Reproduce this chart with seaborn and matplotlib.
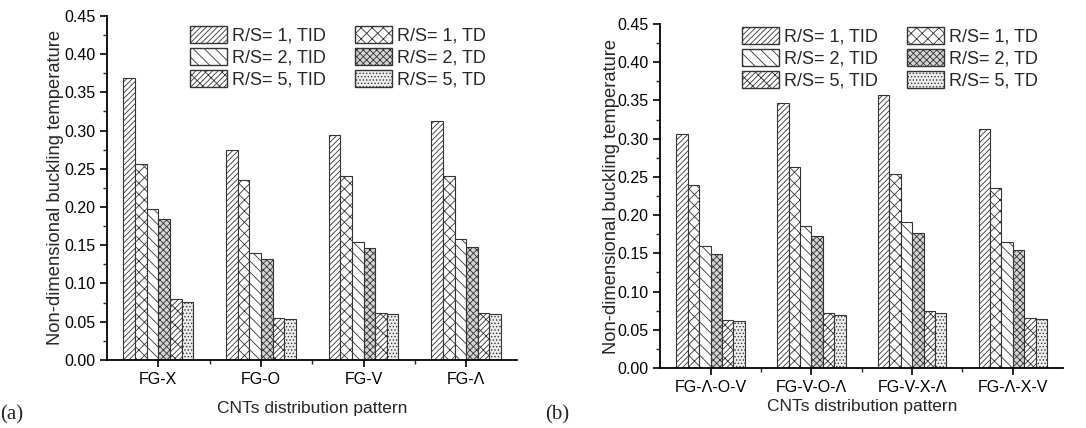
import matplotlib
matplotlib.use('Agg')
import matplotlib.pyplot as plt
from matplotlib.patches import Patch
from matplotlib.ticker import MultipleLocator, FixedLocator, FormatStrFormatter
import pandas as pd
import seaborn as sns

series = ['R/S= 1, TID', 'R/S= 1, TD', 'R/S= 2, TID', 'R/S= 2, TD', 'R/S= 5, TID', 'R/S= 5, TD']
hatches = ['//////', 'xxx', '\\\\\\', 'xxxxx', '////xx', '.....']
fills = ['white', 'white', 'white', '#d4d4d4', 'white', '#eeeeee']

patterns_a = ['FG-X', 'FG-O', 'FG-V', 'FG-Λ']
values_a = [
    [0.369, 0.256, 0.197, 0.184, 0.080, 0.076],
    [0.274, 0.235, 0.140, 0.132, 0.055, 0.054],
    [0.294, 0.241, 0.154, 0.146, 0.061, 0.060],
    [0.313, 0.241, 0.158, 0.148, 0.061, 0.060],
]

patterns_b = ['FG-Λ-O-V', 'FG-V-O-Λ', 'FG-V-X-Λ', 'FG-Λ-X-V']
values_b = [
    [0.306, 0.239, 0.159, 0.149, 0.063, 0.061],
    [0.346, 0.263, 0.186, 0.173, 0.072, 0.070],
    [0.357, 0.254, 0.191, 0.177, 0.075, 0.072],
    [0.312, 0.236, 0.165, 0.154, 0.065, 0.064],
]

sns.set_style('ticks')
plt.rcParams['font.family'] = ['Liberation Sans', 'DejaVu Sans']
plt.rcParams['hatch.linewidth'] = 0.6


def to_frame(patterns, values):
    rows = []
    for p, vals in zip(patterns, values):
        for s, v in zip(series, vals):
            rows.append({'pattern': p, 'series': s, 'value': v})
    return pd.DataFrame(rows)


def draw_panel(ax, patterns, values, xpad, ypad, leg_top):
    df = to_frame(patterns, values)
    sns.barplot(data=df, x='pattern', y='value', hue='series', order=patterns,
                hue_order=series, width=0.68, ax=ax, legend=False, errorbar=None)
    # patches come hue by hue
    n = len(patterns)
    for i, bar in enumerate(ax.patches[:n * len(series)]):
        k = i // n
        bar.set_facecolor(fills[k])
        bar.set_edgecolor('#333333')
        bar.set_linewidth(0.8)
        bar.set_hatch(hatches[k])
    ax.set_ylim(0, 0.45)
    ax.set_xlim(-0.5, 3.5)
    ax.yaxis.set_major_locator(MultipleLocator(0.05))
    ax.yaxis.set_minor_locator(MultipleLocator(0.025))
    ax.yaxis.set_major_formatter(FormatStrFormatter('%.2f'))
    ax.xaxis.set_minor_locator(FixedLocator([0.5, 1.5, 2.5]))
    ax.tick_params(axis='both', which='major', length=5, width=1.2, labelsize=11.5, colors='black')
    ax.tick_params(axis='both', which='minor', length=3, width=1.0)
    sns.despine(ax=ax)
    for sp in ['left', 'bottom']:
        ax.spines[sp].set_linewidth(1.3)
        ax.spines[sp].set_color('black')
    ax.set_xlabel('CNTs distribution pattern', fontsize=12.5, labelpad=xpad)
    ax.set_ylabel('Non-dimensional buckling temperature', fontsize=13.2, labelpad=ypad)
    handles = []
    for k in [0, 2, 4, 1, 3, 5]:
        handles.append(Patch(facecolor=fills[k], edgecolor='#333333', hatch=hatches[k], label=series[k]))
    ax.legend(handles=handles, ncol=2, frameon=False, fontsize=13, loc='upper left',
              bbox_to_anchor=(0.202, leg_top), handlelength=2.05, handleheight=1.05,
              handletextpad=0.28, columnspacing=1.6, labelspacing=0.2,
              borderpad=0, borderaxespad=0)


fig = plt.figure(figsize=(10.86, 4.28), dpi=100)
ax_a = fig.add_axes([0.0985, 0.159, 0.378, 0.804])
ax_b = fig.add_axes([0.608, 0.140, 0.371, 0.804])

draw_panel(ax_a, patterns_a, values_a, 10, 0, 0.971)
draw_panel(ax_b, patterns_b, values_b, 3, -2, 0.991)

fig.text(0.0, 0.02, '(a)', fontsize=15, family='Liberation Serif')
fig.text(0.502, 0.02, '(b)', fontsize=15, family='Liberation Serif')

fig.savefig('out.png', dpi=100)
